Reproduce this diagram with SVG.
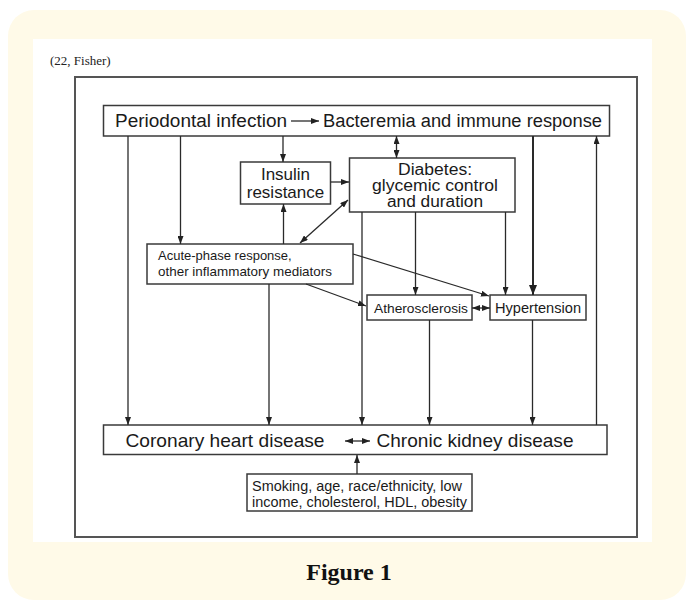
<svg xmlns="http://www.w3.org/2000/svg" width="690" height="604" viewBox="0 0 690 604">
<defs>
<marker id="ah" viewBox="0 0 8 6" refX="8" refY="3" markerWidth="8" markerHeight="6" markerUnits="userSpaceOnUse" orient="auto-start-reverse"><path d="M0,0 L8,3 L0,6 z" fill="#222"/></marker>
<marker id="ahb" viewBox="0 0 10 8" refX="10" refY="4" markerWidth="10" markerHeight="8" markerUnits="userSpaceOnUse" orient="auto"><path d="M0,0 L10,4 L0,8 z" fill="#222"/></marker>
<style>
.box{fill:#fff;stroke:#3a3a3a;stroke-width:1.5}
.t{font-family:"Liberation Sans",Arial,sans-serif;fill:#1a1a1a}
.c{stroke:#2a2a2a;stroke-width:1.3;fill:none}
.ar{marker-end:url(#ah)}
.da{marker-start:url(#ah);marker-end:url(#ah)}
</style>
</defs>
<rect x="8" y="10" width="678" height="590" rx="26" fill="#fffae8"/>
<rect x="33" y="39" width="619" height="503" fill="#fff"/>
<text x="50" y="65" font-family="'Liberation Serif',serif" font-size="13" fill="#222">(22, Fisher)</text>
<rect x="75" y="77" width="562" height="460" fill="none" stroke="#555" stroke-width="2"/>

<g id="top">
<rect class="box" x="103.5" y="105.5" width="506" height="30.5"/>
<text class="t" x="115" y="127" font-size="18" textLength="172" lengthAdjust="spacingAndGlyphs">Periodontal infection</text>
<text class="t" x="323" y="127" font-size="18" textLength="279" lengthAdjust="spacingAndGlyphs">Bacteremia and immune response</text>
</g>

<g id="insulin">
<rect class="box" x="240.5" y="162" width="90" height="42"/>
<text class="t" x="285.5" y="180" font-size="17" text-anchor="middle">Insulin</text>
<text class="t" x="285.5" y="198" font-size="17" text-anchor="middle">resistance</text>
</g>

<g id="diabetes">
<rect class="box" x="349.5" y="158" width="165.5" height="54"/>
<text class="t" x="435" y="175" font-size="16" text-anchor="middle" textLength="74" lengthAdjust="spacingAndGlyphs">Diabetes:</text>
<text class="t" x="435" y="191" font-size="16" text-anchor="middle" textLength="126" lengthAdjust="spacingAndGlyphs">glycemic control</text>
<text class="t" x="435" y="207" font-size="16" text-anchor="middle" textLength="96" lengthAdjust="spacingAndGlyphs">and duration</text>
</g>

<g id="acute">
<rect class="box" x="147" y="244" width="206" height="40"/>
<text class="t" x="158" y="260" font-size="13">Acute-phase response,</text>
<text class="t" x="158" y="276" font-size="13" textLength="174" lengthAdjust="spacingAndGlyphs">other inflammatory mediators</text>
</g>

<g id="athero">
<rect class="box" x="367" y="295" width="105" height="25"/>
<text class="t" x="374" y="313" font-size="13.5" textLength="94" lengthAdjust="spacingAndGlyphs">Atherosclerosis</text>
</g>

<g id="hyper">
<rect class="box" x="490" y="295" width="96" height="25"/>
<text class="t" x="495" y="313" font-size="14.5" textLength="86" lengthAdjust="spacingAndGlyphs">Hypertension</text>
</g>

<g id="bottom">
<rect class="box" x="103.5" y="425" width="503.5" height="29.5"/>
<text class="t" x="125.5" y="447" font-size="19" textLength="199" lengthAdjust="spacingAndGlyphs">Coronary heart disease</text>
<text class="t" x="376.5" y="447" font-size="19" textLength="197" lengthAdjust="spacingAndGlyphs">Chronic kidney disease</text>
</g>

<g id="risk">
<rect class="box" x="247" y="474" width="225" height="37"/>
<text class="t" x="252" y="491" font-size="14" textLength="210" lengthAdjust="spacingAndGlyphs">Smoking, age, race/ethnicity, low</text>
<text class="t" x="252" y="507" font-size="14" textLength="215" lengthAdjust="spacingAndGlyphs">income, cholesterol, HDL, obesity</text>
</g>

<g id="connectors">
<line class="c ar" x1="291" y1="121" x2="319" y2="121"/>
<line class="c da" x1="345" y1="441" x2="370" y2="441"/>
<line class="c ar" x1="128" y1="136" x2="128" y2="425"/>
<line class="c ar" x1="180.5" y1="136" x2="180.5" y2="244"/>
<line class="c ar" x1="283" y1="136" x2="283" y2="162"/>
<line class="c da" x1="396.5" y1="136" x2="396.5" y2="158"/>
<line x1="533" y1="136" x2="533" y2="295" stroke="#2a2a2a" stroke-width="2" marker-end="url(#ahb)"/>
<line class="c ar" x1="596.5" y1="425" x2="596.5" y2="136"/>
<line class="c ar" x1="330.5" y1="182" x2="349" y2="182"/>
<line class="c ar" x1="283.5" y1="244" x2="283.5" y2="204"/>
<line class="c da" x1="300" y1="243" x2="348" y2="200"/>
<line class="c ar" x1="269" y1="284" x2="269" y2="425"/>
<line class="c ar" x1="362" y1="212" x2="362" y2="425"/>
<line class="c ar" x1="415.5" y1="212" x2="415.5" y2="295"/>
<line class="c ar" x1="505.5" y1="212" x2="505.5" y2="295"/>
<line class="c ar" x1="353" y1="254" x2="489" y2="296"/>
<line class="c ar" x1="306" y1="284" x2="366" y2="306"/>
<line class="c da" x1="472" y1="308" x2="490" y2="308"/>
<line class="c ar" x1="429.5" y1="320" x2="429.5" y2="425"/>
<line class="c ar" x1="532.5" y1="320" x2="532.5" y2="425"/>
<line class="c ar" x1="357" y1="474" x2="357" y2="455"/>
</g>

<text x="349" y="580" font-family="'Liberation Serif',serif" font-weight="bold" font-size="24" text-anchor="middle" fill="#111">Figure 1</text>
</svg>
